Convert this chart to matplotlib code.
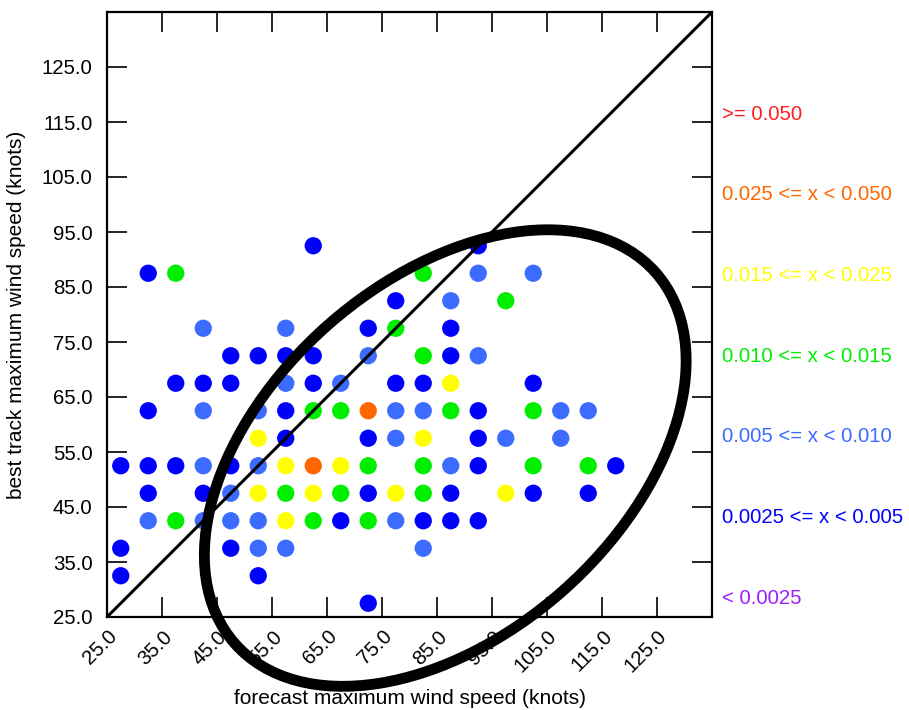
import matplotlib
matplotlib.use("Agg")
import matplotlib.pyplot as plt
import matplotlib.transforms as mtransforms
from matplotlib.patches import Ellipse

plt.rcParams['font.family'] = ['Liberation Sans', 'DejaVu Sans']

# ---- data: (forecast, best track) pairs per probability bin ----
dark_x = [62.5, 92.5, 32.5, 77.5, 72.5, 87.5,
          47.5, 52.5, 57.5, 62.5, 87.5,
          37.5, 42.5, 47.5, 62.5, 77.5, 82.5, 102.5,
          32.5, 57.5, 92.5,
          57.5, 72.5, 92.5,
          27.5, 32.5, 37.5, 47.5, 92.5, 117.5,
          32.5, 42.5, 72.5, 87.5, 102.5, 112.5,
          67.5, 82.5, 87.5, 92.5,
          27.5, 47.5,
          27.5, 52.5,
          72.5]
dark_y = [92.5, 92.5, 87.5, 82.5, 77.5, 77.5,
          72.5, 72.5, 72.5, 72.5, 72.5,
          67.5, 67.5, 67.5, 67.5, 67.5, 67.5, 67.5,
          62.5, 62.5, 62.5,
          57.5, 57.5, 57.5,
          52.5, 52.5, 52.5, 52.5, 52.5, 52.5,
          47.5, 47.5, 47.5, 47.5, 47.5, 47.5,
          42.5, 42.5, 42.5, 42.5,
          37.5, 37.5,
          32.5, 32.5,
          27.5]

light_x = [92.5, 102.5, 87.5, 42.5, 57.5, 72.5, 92.5, 57.5, 67.5,
           42.5, 52.5, 77.5, 82.5, 107.5, 112.5,
           77.5, 97.5, 107.5,
           42.5, 52.5, 87.5,
           47.5,
           32.5, 42.5, 47.5, 52.5, 77.5,
           52.5, 57.5, 82.5]
light_y = [87.5, 87.5, 82.5, 77.5, 77.5, 72.5, 72.5, 67.5, 67.5,
           62.5, 62.5, 62.5, 62.5, 62.5, 62.5,
           57.5, 57.5, 57.5,
           52.5, 52.5, 52.5,
           47.5,
           42.5, 42.5, 42.5, 42.5, 42.5,
           37.5, 37.5, 37.5]

green_x = [37.5, 82.5, 97.5, 77.5, 82.5,
           62.5, 67.5, 87.5, 102.5,
           72.5, 82.5, 102.5, 112.5,
           57.5, 67.5, 82.5,
           37.5, 62.5, 72.5]
green_y = [87.5, 87.5, 82.5, 77.5, 72.5,
           62.5, 62.5, 62.5, 62.5,
           52.5, 52.5, 52.5, 52.5,
           47.5, 47.5, 47.5,
           42.5, 42.5, 42.5]

yellow_x = [87.5, 52.5, 82.5, 57.5, 67.5, 52.5, 62.5, 77.5, 97.5, 57.5]
yellow_y = [67.5, 57.5, 57.5, 52.5, 52.5, 47.5, 47.5, 47.5, 47.5, 42.5]

orange_x = [72.5, 62.5]
orange_y = [62.5, 52.5]

tick_values = [25, 35, 45, 55, 65, 75, 85, 95, 105, 115, 125]
tick_labels = ['25.0', '35.0', '45.0', '55.0', '65.0', '75.0', '85.0',
               '95.0', '105.0', '115.0', '125.0']

legend_labels = ['>= 0.050', '0.025 <= x < 0.050', '0.015 <= x < 0.025',
                 '0.010 <= x < 0.015', '0.005 <= x < 0.010',
                 '0.0025 <= x < 0.005', '< 0.0025']
legend_colors = ['#ff1f1f', '#ff6600', '#ffff00', '#00ee00',
                 '#3b6bff', '#0000ff', '#9a1fff']

# ---- figure ----
fig = plt.figure(figsize=(9.09, 7.10), dpi=100)
ax = fig.add_axes([107/909, 1 - 617/710, 605/909, 605/710])
ax.set_xlim(25, 135)
ax.set_ylim(25, 135)

ms = 155
for xs, ys, c in [(dark_x, dark_y, '#0000ff'), (light_x, light_y, '#3b6bff'),
                  (green_x, green_y, '#00ee00'), (yellow_x, yellow_y, '#ffff00'),
                  (orange_x, orange_y, '#ff6600')]:
    ax.scatter(xs, ys, s=ms, c=c, edgecolors='none', zorder=2)

ax.plot([25, 135], [25, 135], color='black', lw=2.2, zorder=3)

ell = Ellipse((86.5, 53.9), width=102, height=64.5, angle=41.4,
              fill=False, edgecolor='black', lw=7.8, zorder=5, clip_on=False)
ax.add_patch(ell)

fs = 14.7
ax.set_xticks(tick_values)
ax.set_xticklabels(tick_labels, rotation=45, ha='right', va='center',
                   rotation_mode='anchor')
ax.set_yticks(tick_values)
ax.set_yticklabels(tick_labels)
ax.tick_params(direction='in', length=14.5, width=1.2, top=True, right=True,
               labelsize=fs, pad=10.5, colors='black')
ax.tick_params(axis='x', pad=12)
offset = mtransforms.ScaledTranslation(5/72, 0, fig.dpi_scale_trans)
for lab in ax.get_xticklabels():
    lab.set_transform(lab.get_transform() + offset)
for sp in ax.spines.values():
    sp.set_linewidth(1.6)

ax.set_xlabel('forecast maximum wind speed (knots)', fontsize=15, labelpad=9)
ax.set_ylabel('best track maximum wind speed (knots)', fontsize=15, labelpad=11)

n = len(legend_labels)
for i, (lab, col) in enumerate(zip(legend_labels, legend_colors)):
    yf = 0.831 - i * (0.831 - 0.031) / (n - 1)
    ax.text(1.0165, yf, lab, color=col, fontsize=fs, transform=ax.transAxes,
            ha='left', va='center')

fig.savefig('out.png', dpi=100)
